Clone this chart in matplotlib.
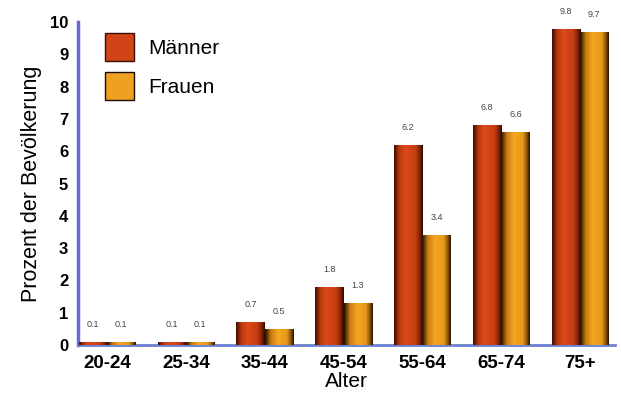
import numpy as np
import matplotlib
matplotlib.use("Agg")
import matplotlib.pyplot as plt
from matplotlib.colors import LinearSegmentedColormap
from matplotlib.patches import Patch

plt.rcParams["font.family"] = ["Liberation Sans", "DejaVu Sans"]

categories = ["20-24", "25-34", "35-44", "45-54", "55-64", "65-74", "75+"]
maenner = [0.1, 0.1, 0.7, 1.8, 6.2, 6.8, 9.8]
frauen = [0.1, 0.1, 0.5, 1.3, 3.4, 6.6, 9.7]
labels_m = ["0.1", "0.1", "0.7", "1.8", "6.2", "6.8", "9.8"]
labels_f = ["0.1", "0.1", "0.5", "1.3", "3.4", "6.6", "9.7"]

cmap_m = LinearSegmentedColormap.from_list(
    "m", [(0, "#3a0c02"), (0.18, "#b8380e"), (0.4, "#dc4a1a"), (0.75, "#c43c10"), (0.9, "#7a2006"), (1, "#2a0800")])
cmap_f = LinearSegmentedColormap.from_list(
    "f", [(0, "#1a0e02"), (0.2, "#c87a10"), (0.45, "#f5a623"), (0.75, "#e69a18"), (0.9, "#8a5206"), (1, "#201000")])

fig = plt.figure(figsize=(6.21, 3.94), dpi=100)
ax = fig.add_axes([0.1256, 0.1244, 0.8644, 0.8196])

x = np.arange(len(categories))
w = 0.36
bm = ax.bar(x - w / 2, maenner, w, color="#d04418", zorder=2)
bf = ax.bar(x + w / 2, frauen, w, color="#f0a020", zorder=2)

grad = np.linspace(0, 1, 256).reshape(1, -1)
for bars, cm in ((bm, cmap_m), (bf, cmap_f)):
    for p in bars:
        x0, wd, h = p.get_x(), p.get_width(), p.get_height()
        im = ax.imshow(grad, extent=[x0, x0 + wd, 0, h], aspect="auto", cmap=cm, zorder=3)
        im.set_clip_path(p)

for i in range(len(categories)):
    ax.text(x[i] - w / 2, maenner[i] + 0.4, labels_m[i], ha="center", va="bottom", fontsize=6.5, color="#444444")
    ax.text(x[i] + w / 2, frauen[i] + 0.4, labels_f[i], ha="center", va="bottom", fontsize=6.5, color="#444444")

ax.set_xlim(-0.37, 6.44)
ax.set_ylim(0, 10)
ax.set_yticks(range(0, 11))
ax.set_xticks(x)
ax.set_xticklabels(categories, fontweight="bold", fontsize=13.5)
for t in ax.get_yticklabels():
    t.set_fontweight("bold")
    t.set_fontsize(12)
ax.tick_params(axis="both", length=0, pad=7)
ax.tick_params(axis="x", pad=7)

for s in ("top", "right"):
    ax.spines[s].set_visible(False)
ax.spines["left"].set_color("#6a6ad0")
ax.spines["left"].set_linewidth(2.5)
ax.spines["bottom"].set_color("#6a80d0")
ax.spines["bottom"].set_linewidth(2)

ax.set_ylabel("Prozent der Bevölkerung", fontsize=15.5, labelpad=6)
ax.set_xlabel("Alter", fontsize=15, labelpad=0)

handles = [Patch(facecolor="#d04418", edgecolor="#3a0c02"), Patch(facecolor="#f0a020", edgecolor="#1a0e02")]
leg = ax.legend(handles, ["Männer", "Frauen"], loc="upper left", bbox_to_anchor=(0.015, 1.025),
                frameon=False, fontsize=15, handlelength=1.4, handleheight=1.7, labelspacing=0.55, handletextpad=0.7)

fig.savefig("out.png", dpi=100)
